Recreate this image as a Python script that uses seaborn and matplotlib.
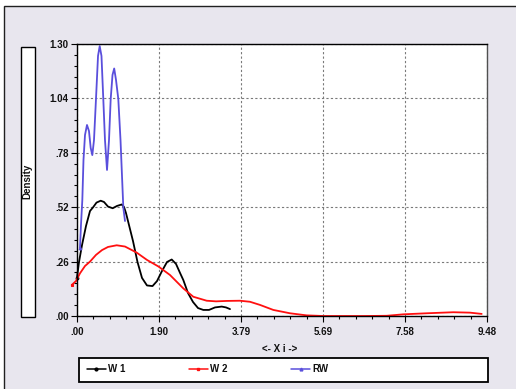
import numpy as np
import pandas as pd
import matplotlib
matplotlib.use("Agg")
import matplotlib.pyplot as plt
from matplotlib.patches import Rectangle
from matplotlib.ticker import FixedLocator, AutoMinorLocator
import seaborn as sns

# Density curves (x, density) for each series
w1_x = [0.0, 0.046, 0.116, 0.208, 0.301, 0.370, 0.451, 0.548, 0.624, 0.717, 0.825,
        0.925, 1.034, 1.087, 1.133, 1.202, 1.295, 1.399, 1.503, 1.618, 1.746, 1.850,
        1.965, 2.081, 2.190, 2.289, 2.382, 2.458, 2.566, 2.682, 2.798, 2.920, 3.052,
        3.191, 3.346, 3.445, 3.538]
w1_y = [0.183, 0.258, 0.339, 0.430, 0.502, 0.519, 0.542, 0.551, 0.545, 0.523, 0.515,
        0.526, 0.533, 0.521, 0.492, 0.435, 0.358, 0.258, 0.182, 0.146, 0.143, 0.167,
        0.215, 0.258, 0.270, 0.249, 0.206, 0.172, 0.110, 0.067, 0.038, 0.029, 0.029,
        0.041, 0.045, 0.041, 0.033]

w2_x = [-0.123, -0.023, 0.069, 0.185, 0.301, 0.439, 0.578, 0.717, 0.918, 1.110,
        1.380, 1.618, 1.880, 2.150, 2.458, 2.689, 2.999, 3.214, 3.461, 3.769, 4.000,
        4.231, 4.539, 4.925, 5.311, 5.695, 6.197, 6.659, 7.161, 7.545, 8.086, 8.701,
        9.087, 9.357]
w2_y = [0.148, 0.167, 0.204, 0.239, 0.260, 0.292, 0.315, 0.330, 0.338, 0.332,
        0.303, 0.268, 0.237, 0.196, 0.132, 0.092, 0.073, 0.070, 0.072, 0.073, 0.068,
        0.053, 0.029, 0.013, 0.003, 0.000, 0.000, 0.000, 0.001, 0.008, 0.013, 0.018,
        0.016, 0.010]

rw_x = [0.069, 0.092, 0.123, 0.150, 0.185, 0.231, 0.277, 0.317, 0.354, 0.393, 0.439,
        0.486, 0.525, 0.566, 0.608, 0.647, 0.694, 0.740, 0.779, 0.821, 0.860, 0.902,
        0.955, 1.006, 1.071, 1.110]
rw_y = [0.325, 0.435, 0.554, 0.746, 0.865, 0.913, 0.884, 0.803, 0.769, 0.841, 1.037,
        1.243, 1.290, 1.243, 1.037, 0.841, 0.698, 0.841, 1.037, 1.152, 1.183, 1.128,
        1.037, 0.841, 0.518, 0.454]

series_names = ["W 1", "W 2", "RW"]
series_colors = ["#000000", "#ff1010", "#5a4fdc"]
series_markers = ["o", "s", "^"]

x_ticks = [0.0, 1.896, 3.792, 5.688, 7.584, 9.48]
x_tick_labels = [".00", "1.90", "3.79", "5.69", "7.58", "9.48"]
y_ticks = [0.0, 0.26, 0.52, 0.78, 1.04, 1.30]
y_tick_labels = [".00", ".26", ".52", ".78", "1.04", "1.30"]

frames = []
for name, xs, ys in zip(series_names, [w1_x, w2_x, rw_x], [w1_y, w2_y, rw_y]):
    frames.append(pd.DataFrame({"x": xs, "density": ys, "series": name,
                                "order": np.arange(len(xs))}))
df = pd.concat(frames, ignore_index=True)

sns.set_theme(style="white")
plt.rcParams["font.family"] = ["Liberation Sans", "DejaVu Sans"]

W, H = 516, 389
FS = 7
fig = plt.figure(figsize=(W / 100, H / 100), dpi=100, facecolor="white")

# panel background with frame
fig.patches.append(Rectangle((4 / W, -0.1), 1.1, 1 - 6 / H + 0.1, transform=fig.transFigure,
                             facecolor="#e8e6ee", edgecolor="#202020", linewidth=1.0,
                             zorder=-5))

ax = fig.add_axes([77 / W, (H - 316) / H, (487 - 77) / W, (316 - 44) / H])
ax.set_facecolor("white")

sns.lineplot(data=df, x="x", y="density", hue="series", hue_order=series_names,
             palette=series_colors, sort=False, estimator=None, units="series",
             linewidth=1.3, legend=False, ax=ax)
for line, mk, col in zip(ax.get_lines(), series_markers, series_colors):
    line.set_clip_on(False)
    line.set_marker(mk)
    line.set_markevery([0])
    line.set_markersize(2)
    line.set_markerfacecolor(col)
    line.set_markeredgecolor(col)

ax.set_xlim(0, 9.48)
ax.set_ylim(0, 1.30)
ax.xaxis.set_major_locator(FixedLocator(x_ticks))
ax.yaxis.set_major_locator(FixedLocator(y_ticks))
ax.set_xticklabels(x_tick_labels)
ax.set_yticklabels(y_tick_labels)
ax.xaxis.set_minor_locator(AutoMinorLocator(5))
ax.yaxis.set_minor_locator(AutoMinorLocator(5))
ax.tick_params(which="major", direction="out", length=4, width=0.8, color="black",
               labelsize=FS, pad=2, bottom=True, left=True)
ax.tick_params(which="minor", direction="out", length=2.2, width=0.8, color="black",
               bottom=True, left=True)
ax.tick_params(axis="x", which="major", pad=4)
for lab in ax.get_xticklabels() + ax.get_yticklabels():
    lab.set_fontweight("bold")
    lab.set_color("#111111")

ax.grid(True, which="major", color="#7a7a7a", linestyle=(0, (2, 2)), linewidth=0.8)
for side in ["left", "bottom", "top"]:
    ax.spines[side].set_color("black")
    ax.spines[side].set_linewidth(1.0)
ax.spines["right"].set_color("#505050")
ax.spines["right"].set_linewidth(1.0)
ax.set_xlabel("")
ax.set_ylabel("")

# x axis title
fig.text(280 / W, 1 - 349 / H, "<- X i ->", ha="center", va="center",
         fontsize=FS, fontweight="bold", color="#111111")

# y axis title in its own box
fig.patches.append(Rectangle((20.5 / W, (H - 316.5) / H), 14.5 / W, 270 / H,
                             transform=fig.transFigure, facecolor="white",
                             edgecolor="black", linewidth=1.0, zorder=1))
fig.text(27.8 / W, 1 - 181.5 / H, "Density", rotation=90, ha="center", va="center",
         fontsize=FS, fontweight="bold", color="#111111", zorder=2)

# legend box
fig.patches.append(Rectangle((79 / W, (H - 382) / H), 409 / W, 24 / H,
                             transform=fig.transFigure, facecolor="white",
                             edgecolor="black", linewidth=1.3, zorder=1))
handles = []
for name, col, mk in zip(series_names, series_colors, series_markers):
    h, = ax.plot([], [], color=col, linewidth=1.1, marker=mk, markersize=2,
                 markevery=[0], label=name)
    handles.append(h)
leg = fig.legend(handles=handles, labels=series_names, loc="center left",
                 bbox_to_anchor=(87 / W, 1 - 369.5 / H), ncol=3, frameon=False,
                 fontsize=FS, handlelength=1.95, handletextpad=0.2,
                 columnspacing=6.55, borderaxespad=0, borderpad=0)
for t in leg.get_texts():
    t.set_fontweight("bold")
    t.set_color("#111111")

fig.savefig("out.png", dpi=100, facecolor=fig.get_facecolor())
